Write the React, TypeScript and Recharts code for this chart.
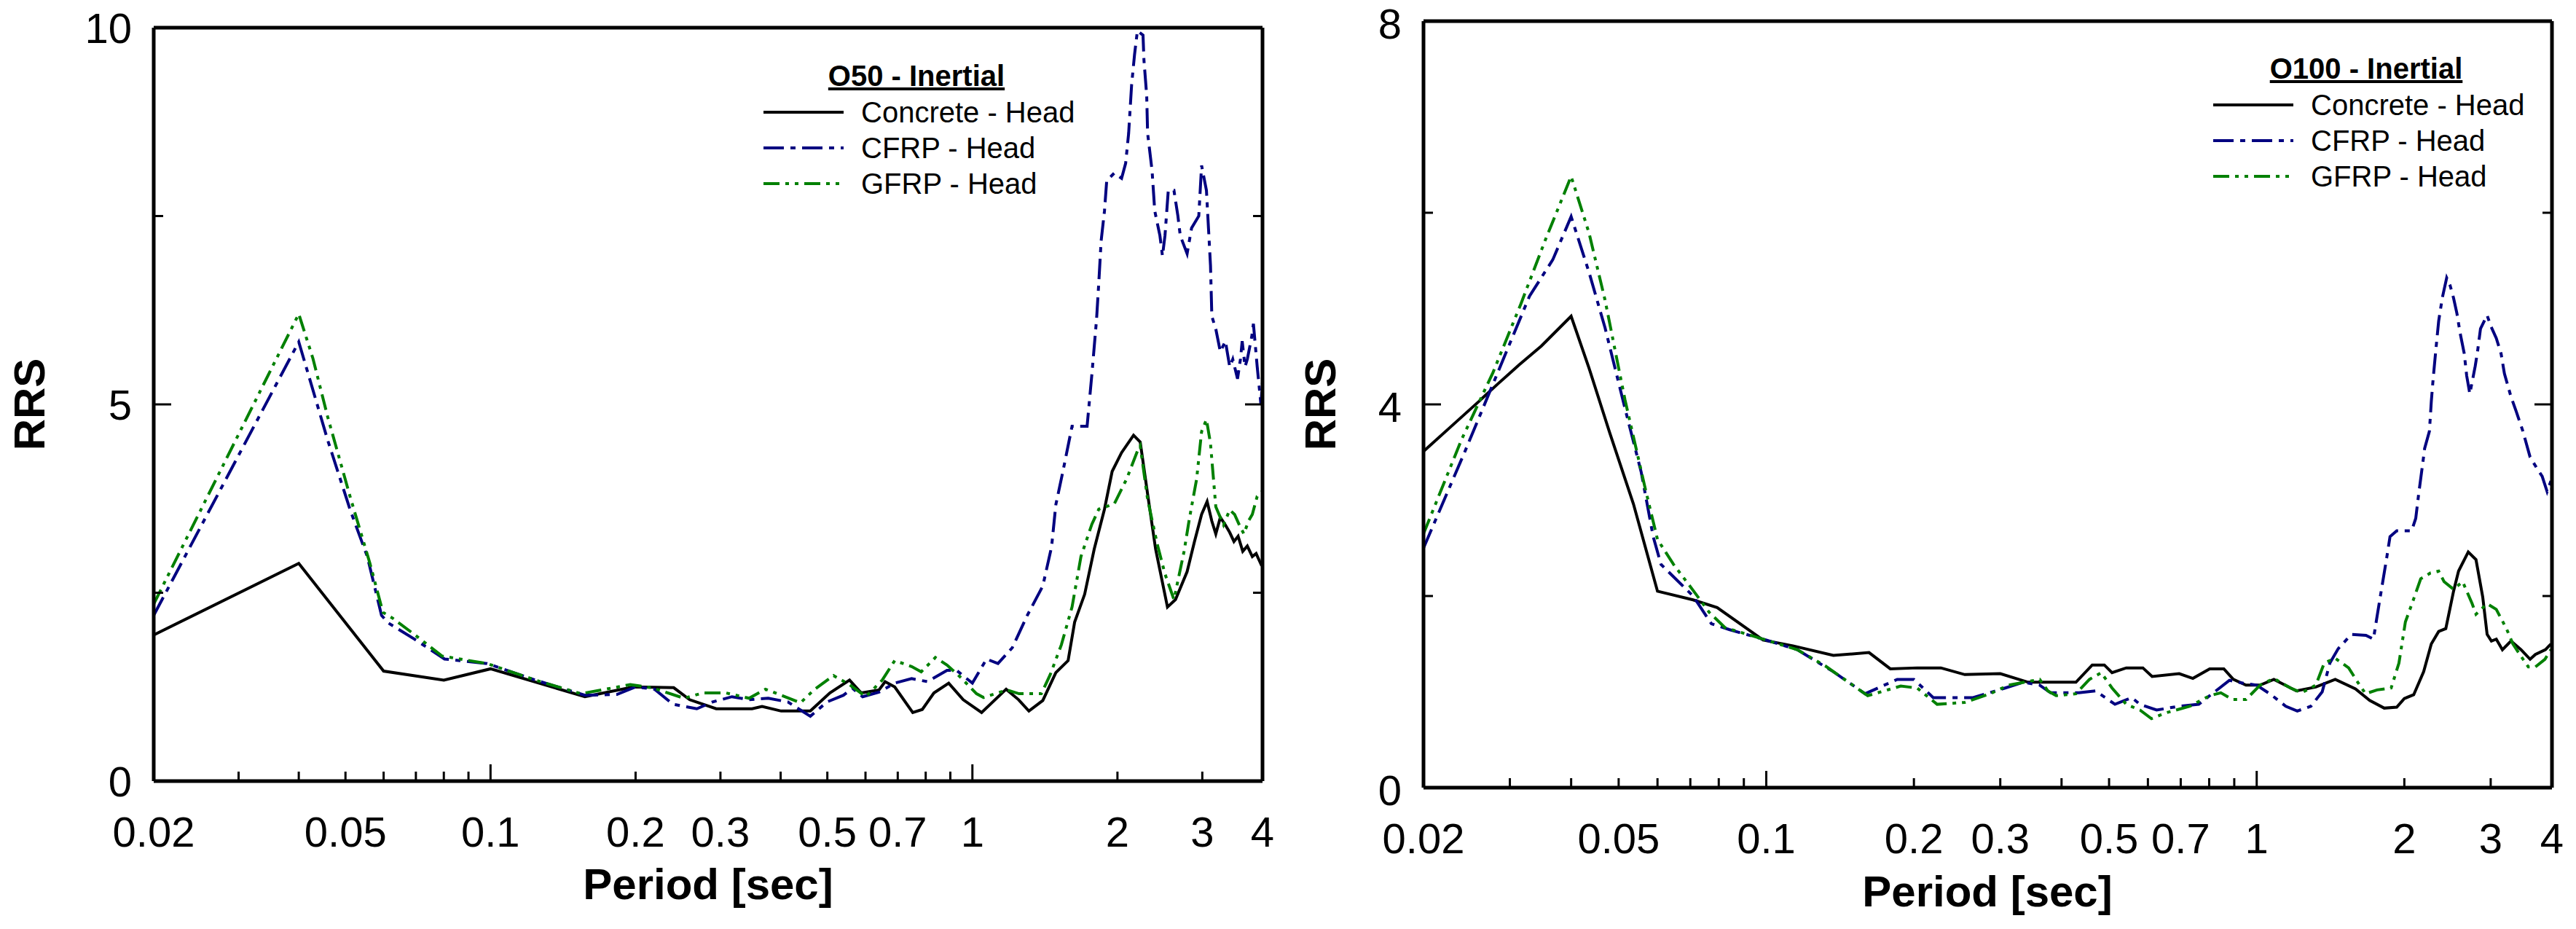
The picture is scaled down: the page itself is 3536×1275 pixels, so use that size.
import React from "react";
import { LineChart, Line, XAxis, YAxis, Legend } from "recharts";

type Pt = [number, number];

const FONT = "'Liberation Sans', Arial, sans-serif";

// period ticks shared by both panels
const X_TICKS = [
  0.02, 0.03, 0.04, 0.05, 0.06, 0.07, 0.08, 0.09, 0.1, 0.2, 0.3, 0.4, 0.5,
  0.6, 0.7, 0.8, 0.9, 1, 2, 3, 4,
];
const X_LABELS = [0.02, 0.05, 0.1, 0.2, 0.3, 0.5, 0.7, 1, 2, 3, 4];
const X_MAJOR = [0.1, 1];

const O50_Y_TICKS = [0, 2.5, 5, 7.5, 10];
const O50_Y_LABELS = [0, 5, 10];
const O100_Y_TICKS = [0, 2, 4, 6, 8];
const O100_Y_LABELS = [0, 4, 8];

const SERIES_NAMES = ["Concrete - Head", "CFRP - Head", "GFRP - Head"];

// [period (s), RRS]
const O50_CONCRETE: Pt[] = [
  [0.02, 1.94], [0.04, 2.89], [0.06, 1.46], [0.08, 1.34], [0.1, 1.49],
  [0.157, 1.12], [0.198, 1.25], [0.24, 1.24], [0.259, 1.08], [0.294, 0.96],
  [0.349, 0.96], [0.366, 0.99], [0.401, 0.93], [0.461, 0.93], [0.506, 1.17],
  [0.556, 1.34], [0.588, 1.17], [0.64, 1.21], [0.659, 1.32], [0.69, 1.25],
  [0.752, 0.91], [0.787, 0.95], [0.832, 1.17], [0.893, 1.3], [0.957, 1.08],
  [1.045, 0.91], [1.175, 1.22], [1.247, 1.08], [1.31, 0.93], [1.4, 1.07],
  [1.49, 1.44], [1.58, 1.6], [1.63, 2.11], [1.71, 2.48], [1.79, 3.08],
  [1.88, 3.61], [1.95, 4.11], [2.04, 4.36], [2.16, 4.59], [2.23, 4.5],
  [2.31, 3.81], [2.4, 3.08], [2.54, 2.31], [2.64, 2.41], [2.79, 2.78],
  [2.89, 3.18], [2.99, 3.54], [3.07, 3.71], [3.14, 3.45], [3.2, 3.28],
  [3.27, 3.5], [3.35, 3.4], [3.42, 3.3], [3.49, 3.18], [3.56, 3.25],
  [3.64, 3.05], [3.72, 3.12], [3.81, 2.98], [3.88, 3.02], [3.97, 2.88],
  [4.0, 2.9],
];

const O50_CFRP: Pt[] = [
  [0.02, 2.2], [0.04, 5.83], [0.0459, 4.53], [0.0512, 3.59], [0.0555, 2.98],
  [0.0594, 2.2], [0.0613, 2.1], [0.0697, 1.88], [0.0803, 1.62], [0.0984, 1.56],
  [0.124, 1.34], [0.157, 1.14], [0.183, 1.15], [0.2, 1.25], [0.219, 1.22],
  [0.239, 1.02], [0.268, 0.96], [0.289, 1.05], [0.317, 1.12], [0.344, 1.08],
  [0.377, 1.1], [0.414, 1.05], [0.461, 0.86], [0.499, 1.05], [0.54, 1.14],
  [0.564, 1.23], [0.592, 1.12], [0.64, 1.18], [0.69, 1.3], [0.748, 1.36],
  [0.807, 1.32], [0.886, 1.47], [0.927, 1.47], [1.0, 1.3], [1.07, 1.62],
  [1.13, 1.56], [1.21, 1.77], [1.3, 2.2], [1.4, 2.59], [1.46, 3.11],
  [1.49, 3.67], [1.54, 4.1], [1.61, 4.71], [1.73, 4.71], [1.77, 5.4],
  [1.81, 6.13], [1.83, 6.63], [1.85, 7.17], [1.88, 7.57], [1.9, 7.97],
  [1.97, 8.07], [2.04, 8.0], [2.08, 8.2], [2.11, 8.6], [2.14, 9.24],
  [2.17, 9.64], [2.2, 9.96], [2.26, 9.9], [2.27, 9.57], [2.3, 9.1],
  [2.31, 8.6], [2.36, 8.1], [2.39, 7.57], [2.45, 7.24], [2.48, 6.97],
  [2.51, 7.24], [2.55, 7.84], [2.62, 7.84], [2.67, 7.5], [2.7, 7.24],
  [2.79, 7.0], [2.85, 7.34], [2.95, 7.5], [2.99, 8.17], [3.06, 7.84],
  [3.09, 7.34], [3.12, 6.84], [3.14, 6.17], [3.2, 6.0], [3.27, 5.7],
  [3.35, 5.84], [3.42, 5.5], [3.47, 5.6], [3.55, 5.34], [3.6, 5.6],
  [3.63, 5.84], [3.68, 5.5], [3.72, 5.6], [3.8, 5.9], [3.83, 6.07],
  [3.9, 5.5], [3.97, 5.0], [4.0, 5.3],
];

const O50_GFRP: Pt[] = [
  [0.02, 2.35], [0.04, 6.2], [0.0428, 5.61], [0.0459, 4.84], [0.0512, 3.76],
  [0.0562, 2.89], [0.0598, 2.24], [0.0627, 2.16], [0.0697, 1.94], [0.0793, 1.66],
  [0.0984, 1.56], [0.124, 1.34], [0.154, 1.16], [0.195, 1.28], [0.216, 1.24],
  [0.252, 1.1], [0.276, 1.17], [0.308, 1.17], [0.344, 1.1], [0.372, 1.22],
  [0.401, 1.14], [0.44, 1.04], [0.469, 1.21], [0.515, 1.4], [0.556, 1.28],
  [0.601, 1.12], [0.65, 1.34], [0.69, 1.6], [0.748, 1.52], [0.783, 1.45],
  [0.838, 1.64], [0.886, 1.54], [0.944, 1.38], [1.02, 1.16], [1.055, 1.11],
  [1.18, 1.21], [1.25, 1.16], [1.39, 1.16], [1.45, 1.41], [1.53, 1.81],
  [1.61, 2.31], [1.68, 2.98], [1.77, 3.41], [1.83, 3.61], [1.97, 3.68],
  [2.09, 4.01], [2.2, 4.38], [2.23, 4.45], [2.31, 3.74], [2.42, 3.14],
  [2.51, 2.75], [2.62, 2.41], [2.75, 3.05], [2.82, 3.48], [2.92, 4.01],
  [2.99, 4.64], [3.06, 4.8], [3.12, 4.48], [3.2, 3.64], [3.32, 3.4],
  [3.42, 3.6], [3.5, 3.54], [3.58, 3.4], [3.66, 3.28], [3.74, 3.45],
  [3.81, 3.54], [3.9, 3.78], [4.0, 3.85],
];

const O100_CONCRETE: Pt[] = [
  [0.02, 3.51], [0.023, 3.79], [0.0258, 4.02], [0.0283, 4.21], [0.0313, 4.41],
  [0.0348, 4.61], [0.04, 4.92], [0.0435, 4.38], [0.0479, 3.71], [0.0536, 2.96],
  [0.06, 2.05], [0.0709, 1.96], [0.0794, 1.88], [0.0985, 1.54], [0.1133, 1.48],
  [0.137, 1.38], [0.162, 1.41], [0.179, 1.24], [0.203, 1.25], [0.227, 1.25],
  [0.254, 1.18], [0.3, 1.19], [0.342, 1.1], [0.428, 1.1], [0.462, 1.28],
  [0.489, 1.28], [0.507, 1.2], [0.542, 1.25], [0.586, 1.25], [0.612, 1.16],
  [0.695, 1.19], [0.741, 1.14], [0.802, 1.24], [0.857, 1.24], [0.896, 1.13],
  [0.951, 1.07], [1.016, 1.07], [1.084, 1.13], [1.205, 1.01], [1.32, 1.05],
  [1.446, 1.13], [1.59, 1.03], [1.7, 0.91], [1.82, 0.83], [1.93, 0.84],
  [2.0, 0.93], [2.09, 0.97], [2.19, 1.21], [2.27, 1.5], [2.35, 1.63],
  [2.43, 1.66], [2.52, 2.05], [2.58, 2.26], [2.7, 2.46], [2.8, 2.38],
  [2.89, 1.99], [2.95, 1.6], [3.01, 1.53], [3.08, 1.55], [3.17, 1.44],
  [3.3, 1.53], [3.46, 1.44], [3.61, 1.34], [3.7, 1.39], [3.88, 1.44],
  [3.98, 1.5],
];

const O100_CFRP: Pt[] = [
  [0.02, 2.5], [0.0243, 3.51], [0.0277, 4.21], [0.0329, 5.13], [0.0367, 5.51],
  [0.04, 5.96], [0.0435, 5.38], [0.0469, 4.8], [0.0515, 3.96], [0.0556, 3.29],
  [0.0588, 2.62], [0.061, 2.33], [0.0709, 2.0], [0.0773, 1.71], [0.084, 1.65],
  [0.1, 1.54], [0.1156, 1.44], [0.137, 1.21], [0.159, 0.98], [0.185, 1.13],
  [0.2, 1.13], [0.219, 0.94], [0.264, 0.94], [0.307, 1.04], [0.334, 1.1],
  [0.361, 1.07], [0.38, 0.99], [0.434, 0.99], [0.469, 1.01], [0.514, 0.87],
  [0.556, 0.94], [0.578, 0.87], [0.625, 0.81], [0.695, 0.85], [0.762, 0.87],
  [0.802, 0.96], [0.88, 1.12], [0.939, 1.09], [1.0, 1.07], [1.07, 0.97],
  [1.146, 0.85], [1.21, 0.8], [1.29, 0.85], [1.36, 1.0], [1.41, 1.3],
  [1.466, 1.45], [1.56, 1.6], [1.67, 1.59], [1.73, 1.55], [1.76, 1.79],
  [1.79, 2.02], [1.84, 2.39], [1.87, 2.62], [1.93, 2.68], [2.07, 2.68],
  [2.11, 2.81], [2.14, 3.07], [2.18, 3.38], [2.2, 3.54], [2.25, 3.72],
  [2.27, 4.03], [2.29, 4.27], [2.32, 4.58], [2.35, 4.87], [2.39, 5.11],
  [2.44, 5.32], [2.48, 5.24], [2.52, 5.11], [2.56, 4.95], [2.6, 4.74],
  [2.65, 4.53], [2.68, 4.3], [2.72, 4.11], [2.79, 4.4], [2.82, 4.55],
  [2.86, 4.79], [2.95, 4.93], [3.0, 4.82], [3.08, 4.69], [3.15, 4.53],
  [3.2, 4.32], [3.3, 4.08], [3.38, 3.93], [3.49, 3.72], [3.61, 3.45],
  [3.74, 3.32], [3.82, 3.25], [3.91, 3.09], [3.98, 3.2], [4.0, 3.1],
];

const O100_GFRP: Pt[] = [
  [0.02, 2.65], [0.0239, 3.63], [0.0277, 4.33], [0.0316, 5.05], [0.0354, 5.71],
  [0.04, 6.38], [0.0435, 5.79], [0.0469, 5.09], [0.0515, 4.05], [0.0566, 3.13],
  [0.06, 2.59], [0.0647, 2.33], [0.0709, 2.06], [0.0765, 1.83], [0.0824, 1.67],
  [0.1, 1.54], [0.1156, 1.44], [0.132, 1.27], [0.161, 0.96], [0.188, 1.06],
  [0.203, 1.04], [0.223, 0.87], [0.254, 0.89], [0.286, 0.98], [0.312, 1.07],
  [0.361, 1.13], [0.375, 1.01], [0.39, 0.96], [0.428, 0.98], [0.456, 1.13],
  [0.482, 1.2], [0.507, 1.04], [0.542, 0.87], [0.578, 0.81], [0.61, 0.72],
  [0.652, 0.78], [0.731, 0.85], [0.802, 0.96], [0.845, 0.99], [0.893, 0.92],
  [0.951, 0.92], [1.016, 1.07], [1.084, 1.14], [1.172, 1.04], [1.235, 0.99],
  [1.32, 1.07], [1.373, 1.3], [1.446, 1.35], [1.54, 1.25], [1.607, 1.1],
  [1.667, 0.98], [1.76, 1.02], [1.88, 1.04], [1.95, 1.3], [2.01, 1.73],
  [2.09, 1.97], [2.16, 2.18], [2.26, 2.24], [2.35, 2.26], [2.41, 2.15],
  [2.52, 2.07], [2.63, 2.15], [2.75, 1.92], [2.8, 1.81], [2.95, 1.92],
  [3.08, 1.86], [3.23, 1.66], [3.33, 1.5], [3.46, 1.37], [3.58, 1.26],
  [3.7, 1.26], [3.87, 1.34], [3.98, 1.44],
];

const STYLES = [
  { color: "#000000", dash: undefined as string | undefined },
  { color: "#000080", dash: "28 9 7 9" },
  { color: "#008000", dash: "22 8 5 8 5 8" },
];

const toRows = (pts: Pt[]) => pts.map(([p, v]) => ({ p, v }));

const BottomTick = (props: any) => {
  const { x, y, payload } = props;
  const v = payload.value;
  const len = X_MAJOR.includes(v) ? 23 : 13;
  return (
    <g>
      <line x1={x} x2={x} y1={y} y2={y - len} stroke="#000" strokeWidth={3} />
      {X_LABELS.includes(v) && (
        <text x={x} y={y + 90} textAnchor="middle" fontSize={58} fontFamily={FONT} fill="#000">
          {String(v)}
        </text>
      )}
    </g>
  );
};

const TopTick = (props: any) => {
  const { x, y, payload } = props;
  const len = X_MAJOR.includes(payload.value) ? 23 : 13;
  return <line x1={x} x2={x} y1={y} y2={y + len} stroke="#000" strokeWidth={3} />;
};

const makeLeftTick = (labels: number[], dy: number) => (props: any) => {
  const { x, y, payload } = props;
  const v = payload.value;
  const on = labels.includes(v);
  return (
    <g>
      <line x1={x} x2={x + (on ? 24 : 13)} y1={y} y2={y} stroke="#000" strokeWidth={3} />
      {on && (
        <text x={x - 30} y={y + dy} textAnchor="end" fontSize={58} fontFamily={FONT} fill="#000">
          {String(v)}
        </text>
      )}
    </g>
  );
};

const makeRightTick = (labels: number[]) => (props: any) => {
  const { x, y, payload } = props;
  const len = labels.includes(payload.value) ? 24 : 13;
  return <line x1={x} x2={x - len} y1={y} y2={y} stroke="#000" strokeWidth={3} />;
};

function LegendBox({ title }: { title: string }) {
  return (
    <svg width={460} height={210} style={{ display: "block", overflow: "visible" }}>
      <text
        x={218}
        y={48}
        textAnchor="middle"
        fontSize={40}
        fontWeight="bold"
        fontFamily={FONT}
        style={{ textDecoration: "underline" }}
      >
        {title}
      </text>
      {SERIES_NAMES.map((name, i) => (
        <g key={name}>
          <line
            x1={8}
            x2={118}
            y1={84 + 49 * i}
            y2={84 + 49 * i}
            stroke={STYLES[i].color}
            strokeWidth={4}
            strokeDasharray={STYLES[i].dash}
          />
          <text x={142} y={98 + 49 * i} fontSize={40} fontFamily={FONT} fill="#000">
            {name}
          </text>
        </g>
      ))}
    </svg>
  );
}

interface PanelProps {
  title: string;
  series: Pt[][];
  yMax: number;
  yTicks: number[];
  yLabels: number[];
  yLabelDy: number;
  margin: { top: number; right: number; bottom: number; left: number };
  legendPos: { left: number; top: number };
  rrsX: number;
  periodX: number;
  periodY: number;
}

function Panel(p: PanelProps) {
  return (
    <LineChart width={1768} height={1275} margin={p.margin}>
      <XAxis
        xAxisId="b"
        orientation="bottom"
        type="number"
        dataKey="p"
        scale="log"
        domain={[0.02, 4]}
        allowDataOverflow
        ticks={X_TICKS}
        interval={0}
        height={100}
        tick={<BottomTick />}
        tickLine={false}
        tickSize={0}
        tickMargin={0}
        axisLine={{ stroke: "#000", strokeWidth: 5 }}
        label={() => (
          <text
            x={p.periodX}
            y={p.periodY}
            textAnchor="middle"
            fontSize={60}
            fontWeight="bold"
            fontFamily={FONT}
            fill="#000"
          >
            Period [sec]
          </text>
        )}
      />
      <XAxis
        xAxisId="t"
        orientation="top"
        type="number"
        scale="log"
        domain={[0.02, 4]}
        allowDataOverflow
        ticks={X_TICKS}
        interval={0}
        height={10}
        tick={<TopTick />}
        tickLine={false}
        tickSize={0}
        tickMargin={0}
        axisLine={{ stroke: "#000", strokeWidth: 5 }}
      />
      <YAxis
        yAxisId="l"
        orientation="left"
        type="number"
        domain={[0, p.yMax]}
        allowDataOverflow
        ticks={p.yTicks}
        interval={0}
        width={100}
        tick={makeLeftTick(p.yLabels, p.yLabelDy)}
        tickLine={false}
        tickSize={0}
        tickMargin={0}
        axisLine={{ stroke: "#000", strokeWidth: 5 }}
        label={() => (
          <text
            x={p.rrsX}
            y={555}
            transform={`rotate(-90 ${p.rrsX} 555)`}
            textAnchor="middle"
            dominantBaseline="central"
            fontSize={60}
            fontWeight="bold"
            fontFamily={FONT}
            fill="#000"
          >
            RRS
          </text>
        )}
      />
      <YAxis
        yAxisId="r"
        orientation="right"
        type="number"
        domain={[0, p.yMax]}
        allowDataOverflow
        ticks={p.yTicks}
        interval={0}
        width={10}
        tick={makeRightTick(p.yLabels)}
        tickLine={false}
        tickSize={0}
        tickMargin={0}
        axisLine={{ stroke: "#000", strokeWidth: 5 }}
      />
      {p.series.map((pts, i) => (
        <Line
          key={SERIES_NAMES[i]}
          name={SERIES_NAMES[i]}
          xAxisId="b"
          yAxisId="l"
          data={toRows(pts)}
          dataKey="v"
          type="linear"
          stroke={STYLES[i].color}
          strokeWidth={4}
          strokeDasharray={STYLES[i].dash}
          dot={false}
          activeDot={false}
          isAnimationActive={false}
        />
      ))}
      <Legend
        layout="horizontal"
        verticalAlign="middle"
        align="center"
        wrapperStyle={{ left: p.legendPos.left, top: p.legendPos.top, width: 460, height: 210 }}
        content={() => <LegendBox title={p.title} />}
      />
    </LineChart>
  );
}

export default function App() {
  return (
    <div
      style={{
        position: "absolute",
        left: 0,
        top: 0,
        width: 3536,
        height: 1275,
        background: "#fff",
        overflow: "hidden",
      }}
    >
      <div style={{ position: "absolute", left: 0, top: 0 }}>
        <Panel
          title="O50 - Inertial"
          series={[O50_CONCRETE, O50_CFRP, O50_GFRP]}
          yMax={10}
          yTicks={O50_Y_TICKS}
          yLabels={O50_Y_LABELS}
          yLabelDy={21}
          margin={{ top: 28, right: 25, bottom: 103, left: 111 }}
          legendPos={{ left: 1040, top: 70 }}
          rrsX={40}
          periodX={972}
          periodY={1234}
        />
      </div>
      <div style={{ position: "absolute", left: 1768, top: 0 }}>
        <Panel
          title="O100 - Inertial"
          series={[O100_CONCRETE, O100_CFRP, O100_GFRP]}
          yMax={8}
          yTicks={O100_Y_TICKS}
          yLabels={O100_Y_LABELS}
          yLabelDy={24}
          margin={{ top: 19, right: 23, bottom: 94, left: 86 }}
          legendPos={{ left: 1262, top: 60 }}
          rrsX={44}
          periodX={960}
          periodY={1244}
        />
      </div>
    </div>
  );
}
